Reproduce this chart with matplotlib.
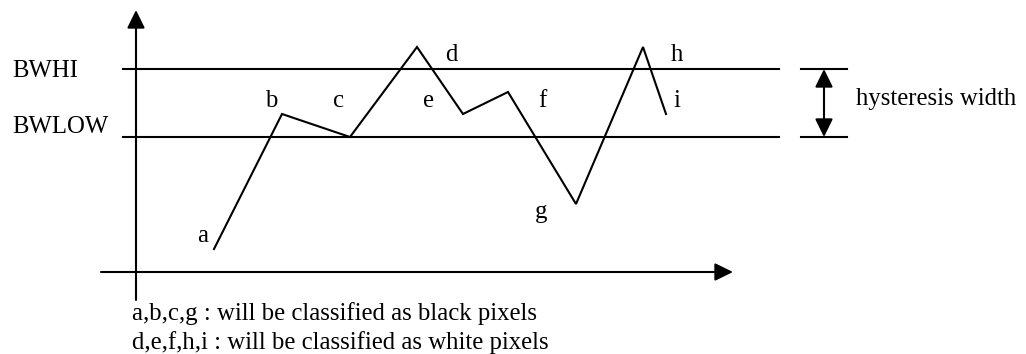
import matplotlib.pyplot as plt

# signal trace (x position, level), measured upward from the bottom of the figure
point_names = ["a", "b", "c", "d", "e", "f", "g", "h", "i"]
signal_x = [214, 282, 350, 417, 463, 508, 576, 643, 666]
signal_y = [105, 240, 217, 307, 240, 262, 150, 307, 240]

# where each point letter sits (x centre, baseline)
label_x = [203, 271, 338, 451, 429, 542, 541, 677, 677]
label_y = [112, 247, 247, 293, 247, 247, 136, 293, 247]

bw_hi = 285
bw_low = 217
threshold_names = ["BWHI", "BWLOW"]

notes = ["a,b,c,g : will be classified as black pixels",
         "d,e,f,h,i : will be classified as white pixels"]

plt.rcParams['font.family'] = ['Liberation Serif', 'DejaVu Serif']
fs = 17.8
lw = 1.5

fig = plt.figure(figsize=(10.26, 3.54), dpi=100)
ax = fig.add_axes([0, 0, 1, 1])
ax.set_xlim(0, 1026)
ax.set_ylim(0, 354)
ax.axis('off')

arrow = dict(arrowstyle='-|>,head_length=0.55,head_width=0.27', mutation_scale=20,
             color='black', lw=lw, shrinkA=0, shrinkB=0)

# axes of the sketch
ax.annotate('', xy=(136, 344), xytext=(136, 54), arrowprops=arrow)
ax.annotate('', xy=(733, 82), xytext=(101, 82), arrowprops=arrow)

# threshold lines
for level, name in zip([bw_hi, bw_low], threshold_names):
    ax.plot([123, 779], [level, level], color='black', lw=lw)
    ax.plot([801, 847], [level, level], color='black', lw=lw)
ax.text(12, 277, threshold_names[0], fontsize=fs, ha='left', va='baseline')
ax.text(12, 221, threshold_names[1], fontsize=fs, ha='left', va='baseline')

# hysteresis width marker
dbl = dict(arrow)
dbl['arrowstyle'] = '<|-|>,head_length=0.55,head_width=0.27'
ax.annotate('', xy=(824, bw_hi), xytext=(824, bw_low), arrowprops=dbl)
ax.text(856, 249, "hysteresis width", fontsize=fs, ha='left', va='baseline')

# signal
ax.plot(signal_x, signal_y, color='black', lw=lw, solid_joinstyle='miter')
for name, x, y in zip(point_names, label_x, label_y):
    ax.text(x, y, name, fontsize=fs, ha='center', va='baseline')

ax.text(132, 34, notes[0], fontsize=fs, ha='left', va='baseline')
ax.text(132, 5, notes[1], fontsize=fs, ha='left', va='baseline')

fig.savefig('out.png', dpi=100, facecolor='white')
